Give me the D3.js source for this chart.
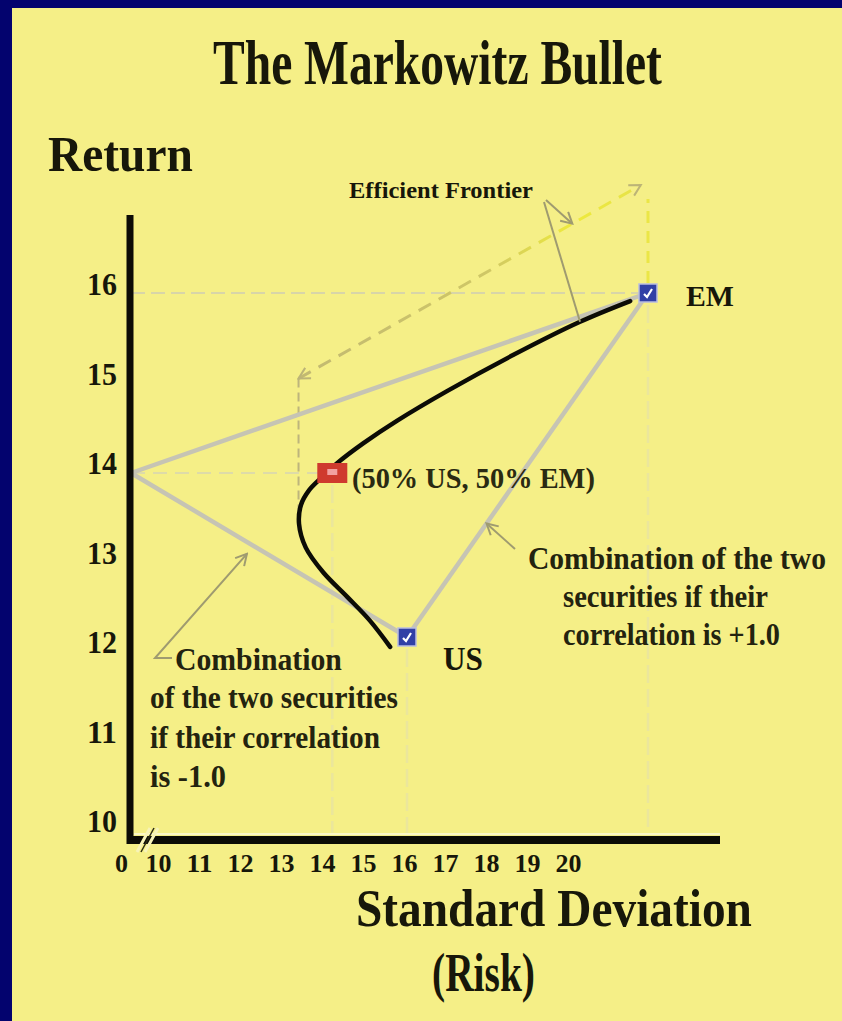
<!DOCTYPE html>
<html>
<head>
<meta charset="utf-8">
<script src="https://cdn.jsdelivr.net/npm/d3@7"></script>
<style>
  html, body { margin: 0; padding: 0; background: #03036e; }
  svg { display: block; }
</style>
</head>
<body>
<svg id="chart"></svg>
<script>
// ---- values ----
const assetNames = ["US", "EM"];
const assetRisk = [15, 20];
const assetReturn = [12, 16];

const mixName = "(50% US, 50% EM)";
const mixRisk = 13.45;
const mixReturn = 14;

// corner of the -1.0 correlation line (zero risk)
const hedgeRisk = 0;
const hedgeReturn = 14;

// the black bullet, from US up to EM
const bulletRisk = [14.65, 14.23, 13.76, 13.26, 12.90, 12.76, 12.80, 12.97, 13.22, 13.55, 14.09, 14.79, 15.83, 17.20, 18.59, 19.63];
const bulletReturn = [11.88, 12.20, 12.49, 12.79, 13.09, 13.38, 13.61, 13.79, 13.94, 14.11, 14.33, 14.58, 14.91, 15.31, 15.68, 15.91];

// dashed "efficient frontier" arrow ends
const frontierRisk = [12.75, 19.85];
const frontierReturn = [15.05, 17.2];

const xTickValues = [0, 10, 11, 12, 13, 14, 15, 16, 17, 18, 19, 20];
const yTickValues = [10, 11, 12, 13, 14, 15, 16];

const width = 842;
const height = 1021;
const ink = "#17170a";
const serif = "'Liberation Serif', 'Times New Roman', serif";

const svg = d3.select("#chart")
    .attr("width", width)
    .attr("height", height)
    .attr("font-family", serif)
    .attr("font-weight", "bold");

// yellow slide panel
svg.append("rect")
    .attr("x", 12).attr("y", 8)
    .attr("width", width - 12).attr("height", height - 8)
    .attr("fill", "#f5ef87");

// the drawing does not match its own tick labels, so points and labels get separate scales
const x = d3.scaleLinear().domain([0, 10, 20]).range([131, 166, 648]);
const y = d3.scaleLinear().domain([12, 14, 16]).range([637, 473, 293]);
const xTick = d3.scaleLinear().domain([0, 10, 20]).range([121, 158, 568]);
const yTick = d3.scaleLinear().domain([10, 16]).range([822, 285]);

const defs = svg.append("defs");
function arrowMarker(id, color) {
    defs.append("marker")
        .attr("id", id)
        .attr("viewBox", "0 0 14 14")
        .attr("refX", 12).attr("refY", 7)
        .attr("markerWidth", 14).attr("markerHeight", 14)
        .attr("markerUnits", "userSpaceOnUse")
        .attr("orient", "auto-start-reverse")
      .append("path")
        .attr("d", "M1,1 L12,7 L1,13")
        .attr("fill", "none")
        .attr("stroke", color)
        .attr("stroke-width", 2);
}
arrowMarker("headGray", "#9f9b70");
arrowMarker("headKhaki", "#bcb477");

const grad = defs.append("linearGradient")
    .attr("id", "frontierGrad")
    .attr("gradientUnits", "userSpaceOnUse")
    .attr("x1", x(frontierRisk[0])).attr("y1", y(frontierReturn[0]))
    .attr("x2", x(frontierRisk[1])).attr("y2", y(frontierReturn[1]));
grad.append("stop").attr("offset", "0%").attr("stop-color", "#c2b972");
grad.append("stop").attr("offset", "55%").attr("stop-color", "#cfc766");
grad.append("stop").attr("offset", "80%").attr("stop-color", "#eeea3c");
grad.append("stop").attr("offset", "100%").attr("stop-color", "#e6e24a");

// faint guide lines
const faint = svg.append("g").attr("fill", "none");
faint.append("line")
    .attr("x1", x(hedgeRisk)).attr("x2", x(assetRisk[1]))
    .attr("y1", y(assetReturn[1])).attr("y2", y(assetReturn[1]))
    .attr("stroke", "#d8d5a8").attr("stroke-width", 2).attr("stroke-dasharray", "14,6");
faint.append("line")
    .attr("x1", x(hedgeRisk)).attr("x2", x(mixRisk))
    .attr("y1", y(mixReturn)).attr("y2", y(mixReturn))
    .attr("stroke", "#dedba8").attr("stroke-width", 2).attr("stroke-dasharray", "14,8");
[mixRisk, assetRisk[0], assetRisk[1]].forEach((r, i) => {
    const top = [y(mixReturn), y(assetReturn[0]), y(assetReturn[1])][i];
    faint.append("line")
        .attr("x1", x(r)).attr("x2", x(r))
        .attr("y1", top + 12).attr("y2", 834)
        .attr("stroke", "#ebe69c").attr("stroke-width", 2.5).attr("stroke-dasharray", "18,6");
});

// dashed vertical at the frontier start and the yellow one above EM
svg.append("line")
    .attr("x1", x(frontierRisk[0])).attr("x2", x(frontierRisk[0]))
    .attr("y1", y(frontierReturn[0])).attr("y2", y(13.5))
    .attr("stroke", "#bdb57c").attr("stroke-width", 2).attr("stroke-dasharray", "9,5");
svg.append("line")
    .attr("x1", x(assetRisk[1])).attr("x2", x(assetRisk[1]))
    .attr("y1", y(assetReturn[1]) - 10).attr("y2", y(frontierReturn[1]) + 14)
    .attr("stroke", "#ebe646").attr("stroke-width", 3).attr("stroke-dasharray", "12,8");

// efficient frontier double arrow
svg.append("line")
    .attr("x1", x(frontierRisk[0])).attr("y1", y(frontierReturn[0]))
    .attr("x2", x(frontierRisk[1])).attr("y2", y(frontierReturn[1]))
    .attr("stroke", "url(#frontierGrad)").attr("stroke-width", 3)
    .attr("stroke-dasharray", "14,9")
    .attr("marker-start", "url(#headKhaki)")
    .attr("marker-end", "url(#headKhaki)");

// grey correlation lines
const us = [x(assetRisk[0]), y(assetReturn[0])];
const em = [x(assetRisk[1]), y(assetReturn[1])];
const hedge = [x(hedgeRisk), y(hedgeReturn)];
const line = d3.line();
svg.append("path")
    .attr("d", line([us, em]))
    .attr("fill", "none").attr("stroke", "#c6c4b4").attr("stroke-width", 4.5);
svg.append("path")
    .attr("d", line([us, hedge, em]))
    .attr("fill", "none").attr("stroke", "#c6c4b4").attr("stroke-width", 4.5)
    .attr("stroke-linejoin", "round");

// the bullet
const bullet = bulletRisk.map((r, i) => [x(r), y(bulletReturn[i])]);
svg.append("path")
    .attr("d", d3.line().curve(d3.curveCatmullRom.alpha(0.5))(bullet))
    .attr("fill", "none").attr("stroke", "#0c0c06").attr("stroke-width", 4.5)
    .attr("stroke-linecap", "round");

// axes
svg.append("line")
    .attr("x1", 130).attr("x2", 130).attr("y1", 215).attr("y2", 844)
    .attr("stroke", "#0c0c06").attr("stroke-width", 7);
svg.append("line")
    .attr("x1", 127).attr("x2", 720).attr("y1", 840).attr("y2", 840)
    .attr("stroke", "#0c0c06").attr("stroke-width", 8);
svg.append("line")
    .attr("x1", 134).attr("x2", 720).attr("y1", 834).attr("y2", 834)
    .attr("stroke", "#fbf8c6").attr("stroke-width", 2);
// axis break
svg.append("path")
    .attr("d", "M137,852 L150,828 M145,852 L158,828")
    .attr("stroke", "#f7f3b8").attr("stroke-width", 3);
svg.append("path")
    .attr("d", "M141,852 L154,828")
    .attr("stroke", "#2a2a14").attr("stroke-width", 1.5);

const yAxis = svg.append("g")
    .attr("transform", "translate(117,0)")
    .call(d3.axisLeft(yTick).tickValues(yTickValues).tickFormat(d3.format("d")).tickSize(0).tickPadding(0));
yAxis.select(".domain").remove();
yAxis.attr("font-family", serif).attr("font-size", 31).attr("font-weight", "bold");
yAxis.selectAll("text").attr("fill", ink).attr("textLength", 30).attr("lengthAdjust", "spacingAndGlyphs");

const xAxis = svg.append("g")
    .attr("transform", "translate(0,854)")
    .call(d3.axisBottom(xTick).tickValues(xTickValues).tickFormat(d3.format("d")).tickSize(0).tickPadding(0));
xAxis.select(".domain").remove();
xAxis.attr("font-family", serif).attr("font-size", 26).attr("font-weight", "bold");
xAxis.selectAll("text").attr("fill", ink)
    .attr("textLength", d => d === 0 ? 13 : 26)
    .attr("lengthAdjust", "spacingAndGlyphs");

// annotation pointers
function pointer(points, head) {
    const p = svg.append("path")
        .attr("d", line(points))
        .attr("fill", "none").attr("stroke", "#9f9b70").attr("stroke-width", 2);
    if (head) p.attr("marker-end", "url(#headGray)");
}
const fStart = [x(frontierRisk[0]), y(frontierReturn[0])];
const fEnd = [x(frontierRisk[1]), y(frontierReturn[1])];
const onFrontier = d3.interpolateArray(fStart, fEnd)(0.8);
pointer([[546, 200], onFrontier], true);
pointer([[544, 202], bullet[14]], false);
const onPlus = d3.interpolateArray(us, em)(0.33);
pointer([[515, 549], onPlus], true);
const onMinus = d3.interpolateArray(hedge, us)(0.42);
pointer([[172, 658], [155, 658], [onMinus[0], onMinus[1] + 12]], true);

// markers
function square(p) {
    const g = svg.append("g").attr("transform", `translate(${p[0]},${p[1]})`);
    g.append("rect")
        .attr("x", -9).attr("y", -9).attr("width", 18).attr("height", 18)
        .attr("fill", "#3140a6").attr("stroke", "#b9bde0").attr("stroke-width", 1.5);
    g.append("path")
        .attr("d", "M-4,1 L-1,4 L4,-4")
        .attr("fill", "none").attr("stroke", "#ffffff").attr("stroke-width", 2.2);
}
square(us);
square(em);

const mix = [x(mixRisk), y(mixReturn)];
svg.append("rect")
    .attr("x", mix[0] - 15).attr("y", mix[1] - 10)
    .attr("width", 30).attr("height", 20)
    .attr("fill", "#cf3a2e");
svg.append("rect")
    .attr("x", mix[0] - 5).attr("y", mix[1] - 4)
    .attr("width", 10).attr("height", 6)
    .attr("fill", "#f2a0a0");

// text, squeezed sideways to the width it has in the slide
function say(str, left, baseline, size, w, fill) {
    const t = svg.append("text")
        .attr("font-size", size)
        .attr("fill", fill || ink)
        .text(str);
    const natural = t.node().getComputedTextLength();
    t.attr("transform", `translate(${left},${baseline}) scale(${w / natural},1)`);
    return t;
}

say("The Markowitz Bullet", 213, 84, 64, 449);
say("Return", 48, 171, 50, 145);
say("Efficient Frontier", 349, 198, 24, 184);
say(assetNames[1], 686, 306, 30, 48);
say(assetNames[0], 443, 670, 33, 40);
say(mixName, 352, 488, 29, 243, "#2a2a12");

say("Combination of the two", 528, 569, 32, 298, "#23230f");
say("securities if their", 563, 607, 32, 205, "#23230f");
say("correlation is +1.0", 563, 645, 32, 217, "#23230f");

say("Combination", 175, 670, 32, 167, "#23230f");
say("of the two securities", 150, 708, 32, 248, "#23230f");
say("if their correlation", 150, 748, 32, 230, "#23230f");
say("is -1.0", 150, 787, 32, 76, "#23230f");

say("Standard Deviation", 356, 926, 52, 396);
say("(Risk)", 432, 991, 54, 103);
</script>
</body>
</html>
